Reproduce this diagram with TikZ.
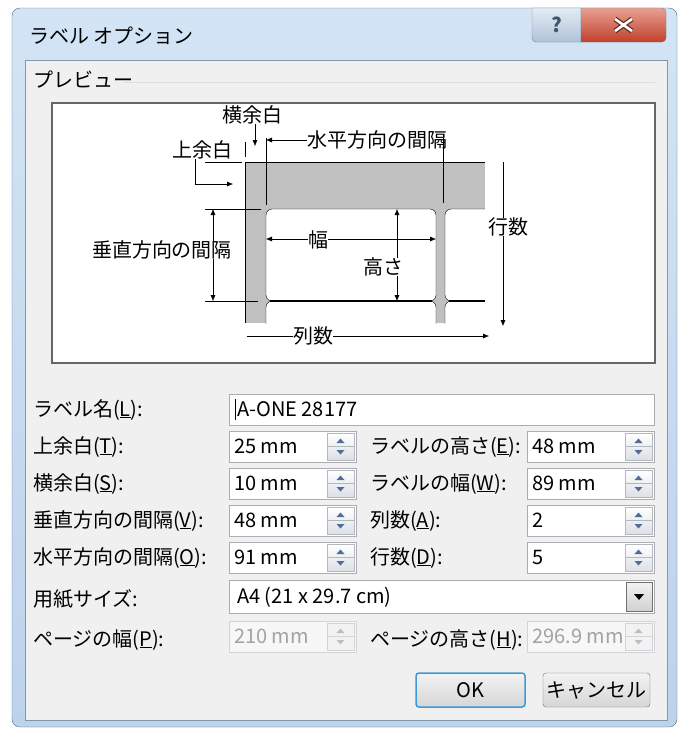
\documentclass[tikz,border=0pt]{standalone}
\usepackage{fontspec}
\setmainfont{Noto Sans CJK JP}
\usetikzlibrary{arrows.meta}
\definecolor{panelgray}{HTML}{F0F0F0}
\definecolor{frametop}{HTML}{D3E4F5}
\definecolor{framelow}{HTML}{BCD3EC}
\definecolor{frameedge}{HTML}{55677D}
\definecolor{clientedge}{HTML}{8496AC}
\definecolor{groupline}{HTML}{D5DFE5}
\definecolor{fieldedge}{HTML}{ABADB3}
\definecolor{spinedge}{HTML}{B3B8BE}
\definecolor{spinlow}{HTML}{DCE0E5}
\definecolor{spinarrow}{HTML}{4F6C9C}
\definecolor{offgray}{HTML}{A2A2A2}
\definecolor{offedge}{HTML}{D2D4D8}
\definecolor{labelgray}{HTML}{C0C0C0}
\definecolor{okblue}{HTML}{3C9AD6}
\definecolor{btnedge}{HTML}{707070}
\definecolor{closetop}{HTML}{E8A093}
\definecolor{closelow}{HTML}{C13F2B}
\definecolor{helptop}{HTML}{E4ECF5}
\definecolor{helplow}{HTML}{AFC2D8}
\definecolor{xdark}{HTML}{5A2A22}
\definecolor{helpglyph}{HTML}{3E5670}

\begin{document}
\begin{tikzpicture}[x=1pt,y=-1pt,
  every node/.style={font=\fontsize{20}{22}\selectfont,inner sep=1pt,text height=16pt,text depth=2pt},
  txt/.style={anchor=west},
  note/.style={fill=white,inner sep=0pt},
  tip/.style={-{Latex[length=6pt,width=5pt]}},
  tips/.style={{Latex[length=6pt,width=5pt]}-{Latex[length=6pt,width=5pt]}},
  field/.style={draw=fieldedge,fill=white},
  spinbtn/.style={draw=spinedge,top color=white,bottom color=spinlow},
  btn/.style={rounded corners=3pt,top color=white!95!black,bottom color=white!84!black,minimum height=34pt}]
\useasboundingbox (0,0) rectangle (683,729);

\draw[frameedge,top color=frametop,bottom color=framelow,rounded corners=8pt] (12,8) rectangle (677,727);
\draw[clientedge,fill=panelgray] (25,60) rectangle (667,720);
\node[txt] (title) at (28,36) {ラベル オプション};

\draw[frameedge!80,top color=helptop,bottom color=helplow] (532,8) [rounded corners=4pt] -- (532,42) -- (560,42) [sharp corners] -- (581,42) -- (581,8) -- cycle;
\draw[frameedge!80,top color=closetop,bottom color=closelow] (581,8) -- (581,42) -- (620,42) [rounded corners=4pt] -- (666,42) -- (666,8) [sharp corners] -- cycle;
\node[text=helpglyph,font=\fontsize{20}{22}\selectfont\bfseries] (help) at (556.5,25) {?};
\draw[xdark,line width=5pt] (615,19) -- (632,31) (632,19) -- (615,31);
\draw[white,line width=2.6pt] (615,19) -- (632,31) (632,19) -- (615,31);

\node[txt] (preview) at (32,80) {プレビュー};
\draw[groupline] (123,82) -- (655,82);
\draw[line width=1.5pt,draw=black!60,fill=white] (52,103) rectangle (655,363);

\fill[labelgray] (245,162) rectangle (485,323);
\begin{scope}
\clip (245,162) rectangle (485,323);
\foreach \x/\w in {266/170,445/80}
  \foreach \y in {209,301}
    \draw[fill=white,rounded corners=6pt] (\x,\y) rectangle ++(\w,92);
\end{scope}
\draw (245,162) -- (485,162) (245,162) -- (245,323);
\draw[line width=2.5pt] (270,301) -- (432,301) (449,301) -- (485,301);

\coordinate (va) at (213,209);
\coordinate (vb) at (213,301);
\draw[tips] (va) -- (vb);
\node[note] (vgap) at (162,250) {垂直方向の間隔};
\coordinate (wa) at (266,239);
\coordinate (wb) at (436,239);
\draw[tips] (wa) -- (wb);
\node[note] (width) at (318,240) {幅};
\coordinate (ha) at (397,209);
\coordinate (hb) at (397,301);
\draw[tips] (ha) -- (hb);
\node[note] (height) at (383,267) {高さ};
\coordinate (ra) at (503,162);
\coordinate (rb) at (503,326);
\draw[tip] (ra) -- (rb);
\node[note] (rows) at (508,227) {行数};
\coordinate (ca) at (247,336);
\coordinate (cb) at (489,336);
\draw[tip] (ca) -- (cb);
\node[note] (cols) at (313,336) {列数};
\node[note,anchor=west] (hgap) at (307,140) {水平方向の間隔};
\coordinate (hg) at (266,140);
\draw[tip] (hgap.west) -- (hg);
\node[note] (side) at (252,115) {横余白};
\coordinate (sd) at (255,146);
\draw[tip] (side.south -| sd) -- (sd);
\node[note] (topm) at (202,150) {上余白};
\coordinate (tm) at (233,184);
\draw[tip] ([xshift=-7pt]topm.south) |- (tm);
\draw (266,138) -- (266,205) (443,138) -- (443,203) (245,142) -- (245,157)
  (205,162) -- (242,162) (205,209) -- (261,209) (205,301) -- (258,301);

\foreach \y/\t [count=\i] in {409/{ラベル名(\underline{L}):},446/{上余白(\underline{T}):},483/{横余白(\underline{S}):},520/{垂直方向の間隔(\underline{V}):},557/{水平方向の間隔(\underline{O}):},599/{用紙サイズ:},639/{ページの幅(\underline{P}):}}
  \node[txt] (left\i) at (32,\y) {\t};
\foreach \y/\t [count=\i] in {446/{ラベルの高さ(\underline{E}):},483/{ラベルの幅(\underline{W}):},520/{列数(\underline{A}):},557/{行数(\underline{D}):},639/{ページの高さ(\underline{H}):}}
  \node[txt] (right\i) at (369,\y) {\t};

\draw[field] (229,394) rectangle (654,425);
\node[txt] (name) at (236,409.5) {A-ONE 28177};
\draw (235,399) -- (235,420);

\foreach \x/\y/\v [count=\i] in {229/431/25 mm,527/431/48 mm,229/468/10 mm,527/468/89 mm,229/505/48 mm,527/505/2,229/542/91 mm,527/542/5} {
  \draw[field] (\x,\y) rectangle ++(127,31);
  \node[txt] (val\i) at ({\x+4},{\y+15.5}) {\v};
  \draw[spinbtn] ({\x+98},{\y+2}) rectangle ({\x+125},{\y+29});
  \draw[spinedge] ({\x+98},{\y+15.5}) -- ({\x+125},{\y+15.5});
  \fill[spinarrow] ({\x+107.5},{\y+12}) -- ({\x+115.5},{\y+12}) -- ({\x+111.5},{\y+7.5}) -- cycle;
  \fill[spinarrow] ({\x+107.5},{\y+19}) -- ({\x+115.5},{\y+19}) -- ({\x+111.5},{\y+23.5}) -- cycle;
}
\foreach \x/\v [count=\i] in {229/210 mm,527/296.9 mm} {
  \draw[draw=offedge,fill=white!97!black] (\x,621) rectangle ++(127,31);
  \node[txt,text=offgray] (off\i) at ({\x+4},636.5) {\v};
  \draw[draw=offedge,fill=white!95!black] ({\x+98},623) rectangle ({\x+125},650);
  \draw[offedge] ({\x+98},636.5) -- ({\x+125},636.5);
  \fill[offgray!70] ({\x+107.5},633) -- ({\x+115.5},633) -- ({\x+111.5},628.5) -- cycle;
  \fill[offgray!70] ({\x+107.5},640) -- ({\x+115.5},640) -- ({\x+111.5},644.5) -- cycle;
}

\draw[field] (229,580) rectangle (654,613);
\node[txt] (paper) at (236,596.5) {A4 (21 x 29.7 cm)};
\draw[draw=btnedge,top color=white!95!black,bottom color=white!82!black] (626,582) rectangle (652,611);
\fill (634,594) -- (644,594) -- (639,600) -- cycle;

\node[btn,draw=okblue,line width=1.5pt,minimum width=109pt] (ok) at (470.5,690) {OK};
\node[btn,draw=btnedge,minimum width=107pt] (cancel) at (596.5,690) {キャンセル};
\end{tikzpicture}
\end{document}
